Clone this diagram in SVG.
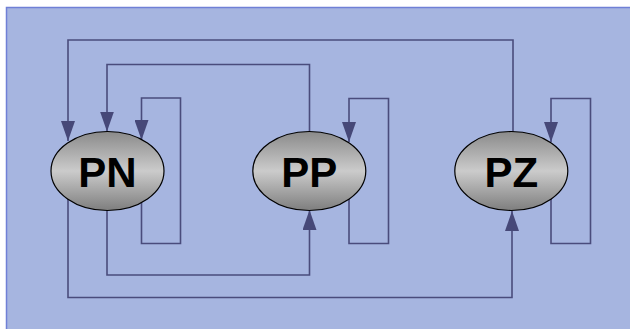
<svg xmlns="http://www.w3.org/2000/svg" width="630" height="329" viewBox="0 0 630 329">
<defs>
<linearGradient id="g" x1="0" y1="0" x2="0" y2="1">
<stop offset="0" stop-color="#8a8a8a"/>
<stop offset="0.5" stop-color="#cbcbcb"/>
<stop offset="1" stop-color="#7e7e7e"/>
</linearGradient>
<marker id="a" viewBox="0 0 20 14" refX="20" refY="7" markerWidth="20" markerHeight="14" markerUnits="userSpaceOnUse" orient="auto">
<path d="M0,0 L20,7 L0,14 Z" fill="#464878"/>
</marker>
<style>
.c{fill:none;stroke:#4a4c7c;stroke-width:1.6;marker-end:url(#a)}
.n{fill:url(#g);stroke:#000;stroke-width:1.2}
.t{font-family:"Liberation Sans",Arial,sans-serif;font-weight:bold;font-size:42px;text-anchor:middle;fill:#000}
</style>
</defs>
<rect x="6.5" y="7.5" width="630" height="330" fill="#a6b5e0" stroke="#7080d6" stroke-width="1.5"/>
<g id="connectors">
<path class="c" d="M513 171 V40 H68 V141"/>
<path class="c" d="M309.5 171 V64.5 H107 V131.5"/>
<path class="c" d="M141.5 171 V243.5 H180.5 V98 H141.5 V140"/>
<path class="c" d="M107 171 V275 H309.5 V210"/>
<path class="c" d="M68 171 V297.5 H512 V211"/>
<path class="c" d="M349 171 V243.5 H388.5 V98.5 H349 V142"/>
<path class="c" d="M551 171 V243.5 H590.5 V98.5 H551 V142"/>
</g>
<g id="PN">
<ellipse class="n" cx="107.5" cy="171" rx="56.5" ry="39.5"/>
<text class="t" x="107.5" y="186.5">PN</text>
</g>
<g id="PP">
<ellipse class="n" cx="309.3" cy="171" rx="56.5" ry="39.5"/>
<text class="t" x="309.3" y="186.5">PP</text>
</g>
<g id="PZ">
<ellipse class="n" cx="511.3" cy="171" rx="56.5" ry="39.5"/>
<text class="t" x="511.3" y="186.5">PZ</text>
</g>
</svg>
